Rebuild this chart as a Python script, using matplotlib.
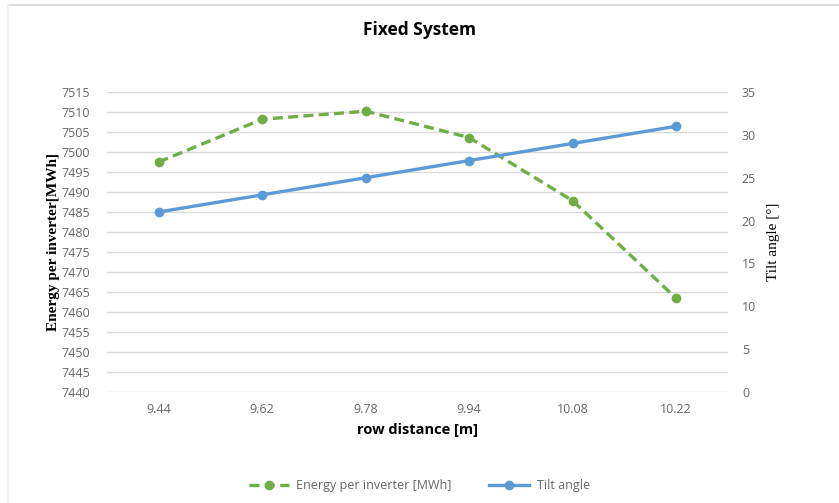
import matplotlib.pyplot as plt
from matplotlib.lines import Line2D

row_distance = ['9.44', '9.62', '9.78', '9.94', '10.08', '10.22']
energy = [7497.5, 7508.2, 7510.2, 7503.6, 7487.8, 7463.4]
tilt = [21, 23, 25, 27, 29, 31]

GREEN = '#70AD47'
BLUE = '#5B9BD5'
TICK = '#666666'

plt.rcParams['font.family'] = ['Open Sans', 'DejaVu Sans']

fig = plt.figure(figsize=(8.39, 5.03), dpi=100)
ax = fig.add_axes([0.1275, 0.2207, 0.7402, 0.5964])
ax2 = ax.twinx()

x = range(len(row_distance))
ax.plot(x, energy, color=GREEN, lw=2.4, ls=(0, (3, 1.6)), marker='o', ms=6, zorder=3)
ax2.plot(x, tilt, color=BLUE, lw=2.4, marker='o', ms=6, zorder=3)

ax.set_xlim(-0.5, 5.5)
ax.set_ylim(7440, 7515)
ax.set_yticks(range(7440, 7516, 5))
ax2.set_ylim(0, 35)
ax2.set_yticks(range(0, 36, 5))
ax.set_xticks(list(x))
ax.set_xticklabels(row_distance)

ax.grid(axis='y', color='#D9D9D9', lw=1)
ax.set_axisbelow(True)
for a in (ax, ax2):
    for s in a.spines.values():
        s.set_visible(False)
    a.tick_params(length=0, labelsize=9, labelcolor=TICK)
ax.tick_params(axis='y', pad=12)
ax2.tick_params(axis='y', pad=10)
ax.tick_params(axis='x', pad=8)

ax.set_ylabel('Energy per inverter[MWh]', family='Liberation Serif', fontweight='bold',
              fontsize=11, labelpad=1)
ax2.set_ylabel('Tilt angle [°]', family='Liberation Serif', fontsize=11, labelpad=8)
ax.set_xlabel('row distance [m]', fontweight='bold', fontsize=10.5, labelpad=5)

fig.text(0.5, 0.94, 'Fixed System', ha='center', va='center', fontsize=12.5, fontweight='bold')

handles = [
    Line2D([], [], color=GREEN, lw=2.4, ls=(0, (3, 1.6)), marker='o', ms=6),
    Line2D([], [], color=BLUE, lw=2.4, marker='o', ms=6),
]
fig.legend(handles, ['Energy per inverter [MWh]', 'Tilt angle'], loc='center',
           bbox_to_anchor=(0.5, 0.034), ncol=2, frameon=False, fontsize=9,
           labelcolor=TICK, handlelength=3.2, columnspacing=3, handletextpad=0.6)

# faint chart-area border (top and left only visible)
fig.add_artist(Line2D([0.0095, 1.0], [0.990, 0.990], transform=fig.transFigure,
                      color='#D9D9D9', lw=1.2))
fig.add_artist(Line2D([0.0095, 0.0095], [0.0, 0.990], transform=fig.transFigure,
                      color='#F0F0F0', lw=1.2))

fig.savefig('out.png', dpi=100)
